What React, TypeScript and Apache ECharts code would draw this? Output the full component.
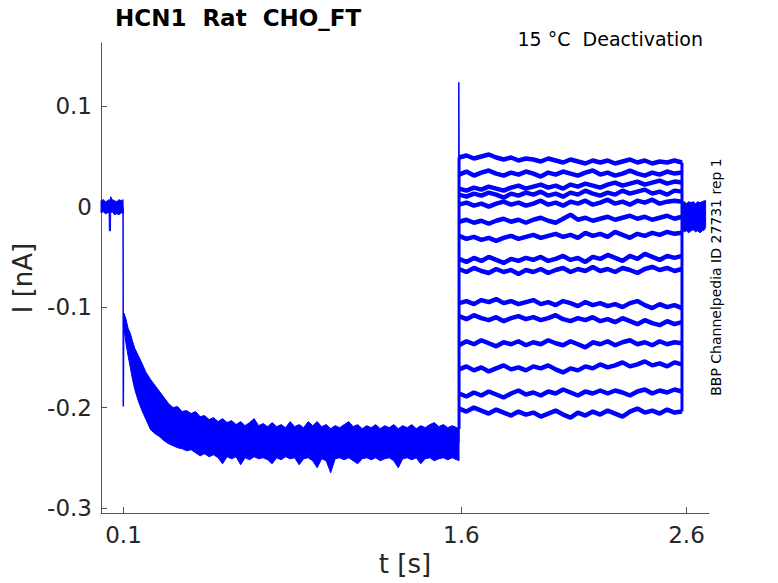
import React, { useEffect, useRef } from 'react';
import * as echarts from 'echarts';

const BLUE = '#0000ff';
const FONT = "'DejaVu Sans', sans-serif";

// holding level before the step (t = 0 .. 0.1 s)
const baseTime = [0, 0.01, 0.02, 0.03, 0.036, 0.037, 0.042, 0.043, 0.05, 0.06, 0.07, 0.08, 0.09, 0.098];
const baseUpper = [0.006, 0.007, 0.005, 0.006, 0.007, 0.006, 0.008, 0.01, 0.007, 0.006, 0.005, 0.007, 0.006, 0.007];
const baseLower = [-0.006, -0.005, -0.007, -0.006, -0.006, -0.024, -0.024, -0.006, -0.005, -0.008, -0.007, -0.008, -0.006, -0.007];

// activation step, all sweeps overlap into one band
const actTime = [
  0.101, 0.11, 0.12, 0.13, 0.14, 0.15, 0.165, 0.18, 0.2, 0.22, 0.24, 0.26, 0.28,
  0.3, 0.32, 0.34, 0.36, 0.38, 0.4, 0.42, 0.44, 0.46, 0.48,
  0.5, 0.52, 0.54, 0.56, 0.58, 0.6, 0.62, 0.64, 0.66, 0.68,
  0.7, 0.72, 0.74, 0.76, 0.78, 0.8, 0.82, 0.84, 0.86, 0.88,
  0.9, 0.92, 0.94, 0.96, 0.98, 1.0, 1.02, 1.04, 1.06, 1.08,
  1.1, 1.12, 1.14, 1.16, 1.18, 1.2, 1.22, 1.24, 1.26, 1.28,
  1.3, 1.32, 1.34, 1.36, 1.38, 1.4, 1.42, 1.44, 1.46, 1.48,
  1.5, 1.52, 1.54, 1.56, 1.58, 1.59,
];
const actUpper = [
  -0.106, -0.111, -0.121, -0.126, -0.134, -0.141, -0.148, -0.155, -0.165, -0.172, -0.178, -0.184, -0.19,
  -0.196, -0.2, -0.199, -0.204, -0.203, -0.206, -0.204, -0.209, -0.208, -0.212,
  -0.21, -0.214, -0.211, -0.215, -0.213, -0.217, -0.214, -0.218, -0.215, -0.211,
  -0.218, -0.216, -0.219, -0.215, -0.219, -0.217, -0.22, -0.214, -0.219, -0.217,
  -0.22, -0.214, -0.218, -0.214, -0.219, -0.217, -0.221, -0.218, -0.22, -0.217,
  -0.214, -0.219, -0.217, -0.221, -0.218, -0.22, -0.217, -0.221, -0.218, -0.22,
  -0.217, -0.221, -0.218, -0.22, -0.217, -0.221, -0.218, -0.22, -0.217, -0.215,
  -0.219, -0.217, -0.22, -0.218, -0.22, -0.221,
];
const actLower = [
  -0.118, -0.135, -0.148, -0.16, -0.172, -0.182, -0.193, -0.202, -0.212, -0.222, -0.226, -0.229, -0.233,
  -0.236, -0.238, -0.24, -0.241, -0.243, -0.242, -0.245, -0.248, -0.246, -0.249,
  -0.247, -0.25, -0.256, -0.249, -0.251, -0.249, -0.257, -0.25, -0.252, -0.249,
  -0.251, -0.25, -0.252, -0.256, -0.25, -0.252, -0.249, -0.251, -0.25, -0.257,
  -0.251, -0.25, -0.253, -0.26, -0.251, -0.253, -0.265, -0.251, -0.25, -0.252,
  -0.25, -0.253, -0.256, -0.251, -0.25, -0.252, -0.25, -0.253, -0.251, -0.25,
  -0.253, -0.26, -0.251, -0.25, -0.252, -0.25, -0.256, -0.251, -0.25, -0.253,
  -0.251, -0.25, -0.252, -0.25, -0.252, -0.253,
];

// deactivation (tail) steps, one row per sweep
const stepTime = [
  1.59, 1.623, 1.656, 1.689, 1.722, 1.755, 1.788, 1.821, 1.854, 1.887, 1.92, 1.953, 1.986, 2.019, 2.052, 2.085,
  2.118, 2.151, 2.184, 2.217, 2.25, 2.283, 2.316, 2.349, 2.382, 2.415, 2.448, 2.481, 2.514, 2.547, 2.58,
];
const tailTraces = [
  [0.049, 0.051, 0.048, 0.05, 0.052, 0.049, 0.047, 0.049, 0.046, 0.048, 0.047, 0.045, 0.048, 0.046, 0.044, 0.047, 0.045, 0.043, 0.046, 0.044, 0.046, 0.043, 0.045, 0.047, 0.044, 0.046, 0.043, 0.045, 0.044, 0.046, 0.044],
  [0.032, 0.035, 0.031, 0.034, 0.036, 0.033, 0.031, 0.034, 0.032, 0.035, 0.033, 0.03, 0.034, 0.032, 0.035, 0.033, 0.031, 0.034, 0.036, 0.032, 0.034, 0.031, 0.033, 0.036, 0.033, 0.031, 0.034, 0.032, 0.035, 0.033, 0.034],
  [0.018, 0.016, 0.019, 0.017, 0.02, 0.018, 0.016, 0.019, 0.021, 0.018, 0.02, 0.022, 0.019, 0.021, 0.018, 0.022, 0.02, 0.023, 0.021, 0.019, 0.022, 0.024, 0.021, 0.023, 0.025, 0.022, 0.024, 0.026, 0.023, 0.025, 0.024],
  [0.012, 0.01, 0.013, 0.011, 0.014, 0.012, 0.009, 0.013, 0.011, 0.014, 0.012, 0.015, 0.011, 0.013, 0.01, 0.014, 0.012, 0.016, 0.013, 0.011, 0.014, 0.012, 0.016, 0.013, 0.015, 0.017, 0.013, 0.015, 0.012, 0.016, 0.015],
  [0.002, 0.004, 0.001, 0.003, 0.0, 0.003, 0.005, 0.002, 0.004, 0.001, 0.003, 0.006, 0.002, 0.004, 0.001, 0.005, 0.003, 0.006, 0.002, 0.004, 0.007, 0.003, 0.005, 0.002, 0.006, 0.004, 0.007, 0.003, 0.005, 0.006, 0.005],
  [-0.015, -0.013, -0.016, -0.014, -0.017, -0.014, -0.012, -0.015, -0.013, -0.016, -0.013, -0.011, -0.014, -0.016, -0.012, -0.008, -0.013, -0.011, -0.014, -0.012, -0.01, -0.013, -0.011, -0.009, -0.012, -0.01, -0.013, -0.011, -0.009, -0.012, -0.01],
  [-0.029, -0.032, -0.03, -0.033, -0.031, -0.034, -0.031, -0.029, -0.032, -0.03, -0.028, -0.031, -0.029, -0.027, -0.03, -0.028, -0.031, -0.026, -0.029, -0.027, -0.03, -0.025, -0.028, -0.031, -0.027, -0.029, -0.026, -0.028, -0.025, -0.027, -0.026],
  [-0.052, -0.055, -0.051, -0.054, -0.05, -0.053, -0.056, -0.052, -0.054, -0.051, -0.053, -0.05, -0.054, -0.052, -0.049, -0.053, -0.051, -0.055, -0.05, -0.052, -0.048, -0.051, -0.054, -0.049, -0.052, -0.047, -0.05, -0.053, -0.049, -0.051, -0.049],
  [-0.062, -0.065, -0.061, -0.064, -0.066, -0.062, -0.065, -0.063, -0.067, -0.063, -0.065, -0.062, -0.066, -0.063, -0.061, -0.065, -0.062, -0.064, -0.06, -0.064, -0.062, -0.065, -0.061, -0.063, -0.066, -0.062, -0.06, -0.063, -0.061, -0.064, -0.062],
  [-0.096, -0.094, -0.097, -0.093, -0.095, -0.092, -0.096, -0.094, -0.097, -0.095, -0.093, -0.097, -0.095, -0.098, -0.094, -0.096, -0.099, -0.095, -0.098, -0.096, -0.099, -0.097, -0.1, -0.096, -0.094, -0.098, -0.101, -0.097, -0.1, -0.098, -0.101],
  [-0.109, -0.112, -0.108, -0.111, -0.113, -0.11, -0.114, -0.111, -0.109, -0.112, -0.11, -0.113, -0.111, -0.108, -0.112, -0.114, -0.111, -0.113, -0.11, -0.114, -0.112, -0.115, -0.111, -0.114, -0.117, -0.113, -0.116, -0.118, -0.114, -0.117, -0.115],
  [-0.138, -0.134, -0.137, -0.133, -0.136, -0.139, -0.135, -0.137, -0.134, -0.138, -0.135, -0.137, -0.133, -0.136, -0.138, -0.134, -0.137, -0.14, -0.135, -0.137, -0.134, -0.138, -0.135, -0.133, -0.137, -0.135, -0.138, -0.134, -0.137, -0.135, -0.136],
  [-0.162, -0.159, -0.163, -0.16, -0.164, -0.161, -0.158, -0.162, -0.16, -0.163, -0.159, -0.161, -0.158, -0.162, -0.165, -0.161, -0.163, -0.159, -0.161, -0.157, -0.16, -0.158, -0.155, -0.159, -0.157, -0.154, -0.158, -0.156, -0.159, -0.155, -0.157],
  [-0.186, -0.189, -0.185, -0.188, -0.184, -0.187, -0.19, -0.186, -0.183, -0.187, -0.185, -0.188, -0.184, -0.186, -0.182, -0.185, -0.188, -0.184, -0.186, -0.183, -0.186, -0.183, -0.185, -0.188, -0.184, -0.182, -0.186, -0.183, -0.185, -0.182, -0.184],
  [-0.201, -0.204, -0.2, -0.203, -0.206, -0.202, -0.205, -0.208, -0.204, -0.207, -0.205, -0.209, -0.206, -0.203, -0.207, -0.21, -0.205, -0.208, -0.204, -0.207, -0.203, -0.206, -0.209, -0.204, -0.201, -0.205, -0.203, -0.206, -0.202, -0.205, -0.204],
];

// back to holding after the tail step
const postTime = [2.58, 2.59, 2.6, 2.61, 2.62, 2.63, 2.64, 2.65, 2.66, 2.67, 2.68, 2.685];
const postUpper = [0.004, 0.005, 0.003, 0.005, 0.004, 0.005, 0.003, 0.005, 0.004, 0.005, 0.006, 0.006];
const postLower = [-0.023, -0.025, -0.024, -0.026, -0.024, -0.023, -0.025, -0.024, -0.026, -0.024, -0.023, -0.02];

// capacitive transients
const onsetSpike = [[0.098, 0.0], [0.099, -0.199], [0.101, -0.106]];
const tailSpike = [[1.589, -0.235], [1.589, 0.124], [1.59, 0.05]];

const xTicks = [0.1, 1.6, 2.6];
const yTicks = [-0.3, -0.2, -0.1, 0, 0.1];

const band = (times: number[], upper: number[], lower: number[]) => (_p: any, api: any) => {
  const pts: number[][] = [];
  times.forEach((t, i) => pts.push(api.coord([t, upper[i]])));
  for (let i = times.length - 1; i >= 0; i--) pts.push(api.coord([times[i], lower[i]]));
  return {
    type: 'polygon',
    shape: { points: pts },
    style: { fill: BLUE, stroke: BLUE, lineWidth: 1 },
  };
};

const App: React.FC = () => {
  const chartRef = useRef<HTMLDivElement | null>(null);

  useEffect(() => {
    if (!chartRef.current) return;
    const chart = echarts.init(chartRef.current, undefined, { renderer: 'svg' });

    const last = stepTime.length - 1;
    const tailSeries = tailTraces.map((trace, k) => ({
      name: 'sweep ' + (k + 1),
      type: 'line',
      showSymbol: false,
      silent: true,
      lineStyle: { color: BLUE, width: 4.5 },
      data: stepTime.map((t, i) => [t, trace[i]]),
    }));

    // vertical jumps into and out of the tail step
    const jumpIn = [[stepTime[0], actUpper[actUpper.length - 1]], [stepTime[0], tailTraces[0][0]]];
    const jumpOut = [[stepTime[last], tailTraces[tailTraces.length - 1][last]], [stepTime[last], tailTraces[0][last]]];

    chart.setOption({
      animation: false,
      title: {
        text: 'HCN1  Rat  CHO_FT',
        left: 115,
        top: 6,
        padding: 0,
        textStyle: { fontFamily: FONT, fontWeight: 'bold', fontSize: 23, color: '#000' },
      },
      grid: { left: 101, right: 69, top: 43, bottom: 70 },
      xAxis: {
        type: 'value',
        min: 0,
        max: 2.7,
        name: 't [s]',
        nameLocation: 'middle',
        nameGap: 38,
        nameTextStyle: { fontFamily: FONT, fontSize: 26, color: '#262626' },
        axisLine: { onZero: false, lineStyle: { color: '#555', width: 1 } },
        axisTick: { inside: true, length: 6, customValues: xTicks, lineStyle: { color: '#555' } },
        axisLabel: {
          customValues: xTicks,
          margin: 10,
          fontFamily: FONT,
          fontSize: 23,
          color: '#262626',
          formatter: (v: number) => String(v),
        },
        splitLine: { show: false },
      },
      yAxis: {
        type: 'value',
        min: -0.305,
        max: 0.163,
        name: 'I [nA]',
        nameLocation: 'middle',
        nameGap: 57,
        nameTextStyle: { fontFamily: FONT, fontSize: 26, color: '#262626' },
        axisLine: { show: true, onZero: false, lineStyle: { color: '#555', width: 1 } },
        axisTick: { show: true, inside: true, length: 6, customValues: yTicks, lineStyle: { color: '#555' } },
        axisLabel: {
          customValues: yTicks,
          margin: 9,
          fontFamily: FONT,
          fontSize: 23,
          color: '#262626',
          formatter: (v: number) => String(v),
        },
        splitLine: { show: false },
      },
      graphic: [
        {
          type: 'text',
          right: 75,
          top: 29,
          style: { text: '15 °C  Deactivation', font: `19px ${FONT}`, fill: '#000' },
        },
        {
          type: 'text',
          x: 716,
          y: 277,
          rotation: Math.PI / 2,
          style: {
            text: 'BBP Channelpedia ID 27731 rep 1',
            font: `14px ${FONT}`,
            fill: '#000',
            align: 'center',
            verticalAlign: 'middle',
          },
        },
      ],
      series: [
        { name: 'holding', type: 'custom', silent: true, data: [[0.05, 0]], renderItem: band(baseTime, baseUpper, baseLower) },
        { name: 'activation', type: 'custom', silent: true, data: [[0.8, -0.2]], renderItem: band(actTime, actUpper, actLower) },
        { name: 'return', type: 'custom', silent: true, data: [[2.63, 0]], renderItem: band(postTime, postUpper, postLower) },
        { name: 'onset', type: 'line', showSymbol: false, silent: true, lineStyle: { color: BLUE, width: 1.5 }, data: onsetSpike },
        { name: 'tail spike', type: 'line', showSymbol: false, silent: true, lineStyle: { color: BLUE, width: 1.5 }, data: tailSpike },
        { name: 'jump in', type: 'line', showSymbol: false, silent: true, lineStyle: { color: BLUE, width: 3 }, data: jumpIn },
        { name: 'jump out', type: 'line', showSymbol: false, silent: true, lineStyle: { color: BLUE, width: 3 }, data: jumpOut },
        ...tailSeries,
      ],
    });

    return () => {
      chart.dispose();
    };
  }, []);

  return <div ref={chartRef} style={{ position: 'absolute', left: 0, top: 0, width: 778, height: 583 }} />;
};

export default App;
